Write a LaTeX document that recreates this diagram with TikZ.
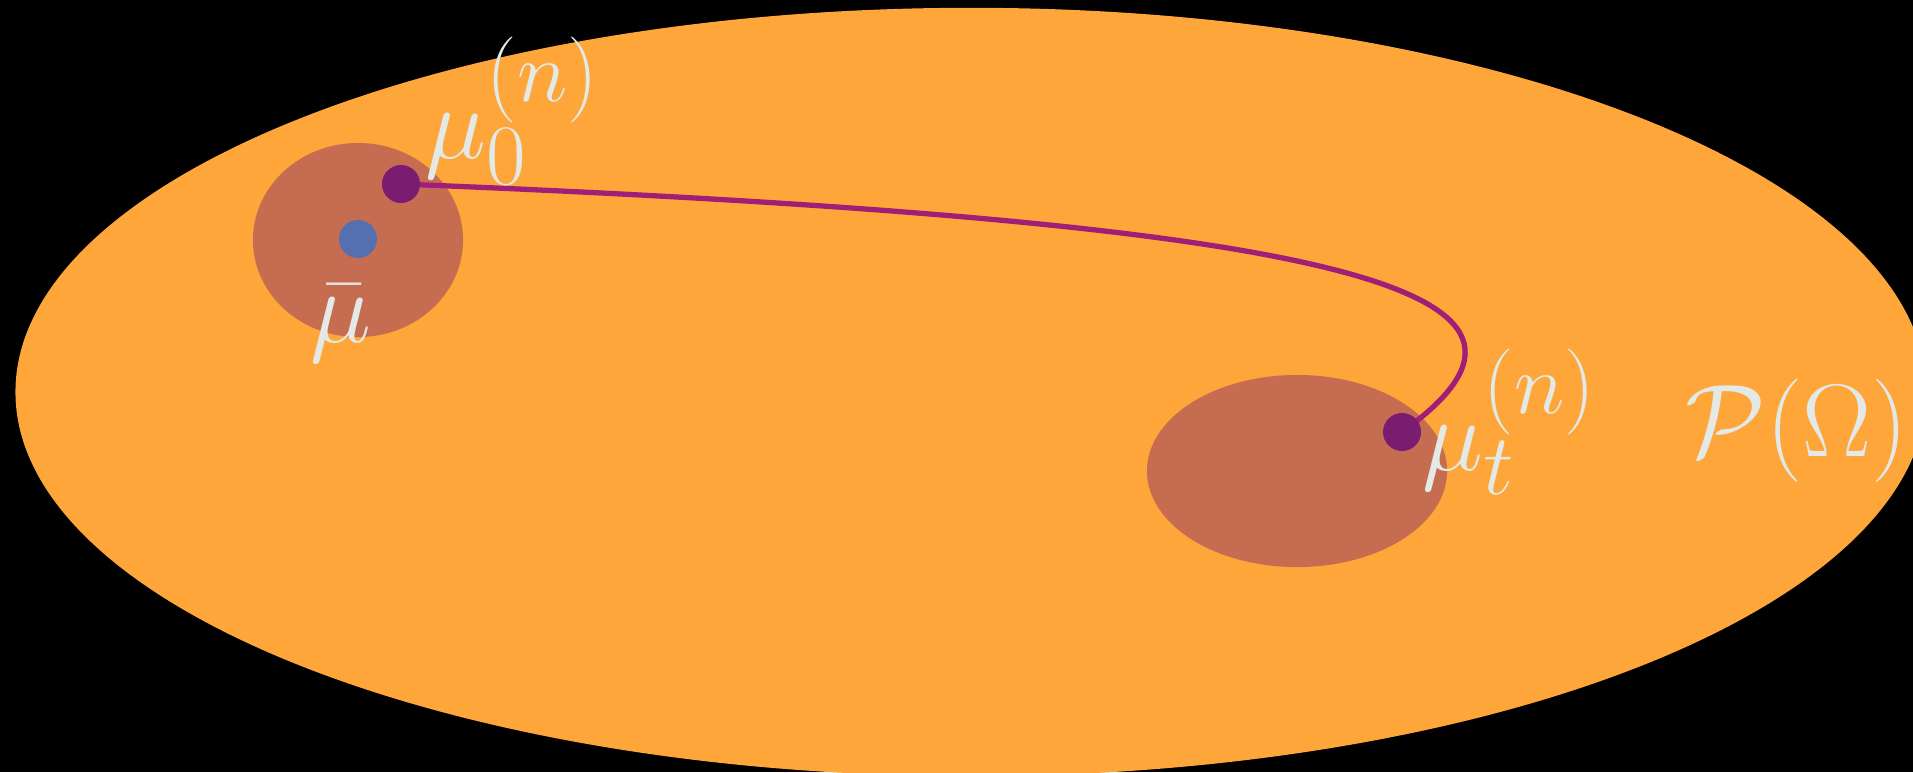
\documentclass[tikz,border=0pt]{standalone}
\usepackage{xcolor}
\usepackage{tikz}
\usetikzlibrary{positioning}
\definecolor{spaceorange}{HTML}{FFA63A}
\definecolor{ballbrown}{HTML}{C66D51}
\definecolor{pathpurple}{HTML}{A01E78}
\definecolor{dotpurple}{HTML}{7A1C72}
\definecolor{dotblue}{HTML}{5470B0}
\definecolor{labelgray}{HTML}{E3E9E7}
\tikzset{
    measuredot/.style={circle, fill=#1, inner sep=0pt, minimum size=0.38cm},
    measurelabel/.style={anchor=base west, inner sep=0pt, text=labelgray, scale=1.18, font=\fontsize{24.88}{30}\selectfont},
    flowpath/.style={draw=pathpurple, line width=1.5pt}
}

\begin{document}
\begin{tikzpicture}[x=0.01cm, y=-0.01cm]
    \fill[black] (0,0) rectangle (1913,772);
    \useasboundingbox (0,0) rectangle (1913,772);

    % the space P(Omega) and the two neighbourhoods
    \fill[spaceorange] (971,392) ellipse [x radius=9.55cm, y radius=3.84cm];
    \fill[ballbrown] (358,240) ellipse [x radius=1.05cm, y radius=0.97cm];
    \fill[ballbrown] (1297,471) ellipse [x radius=1.50cm, y radius=0.96cm];

    \coordinate (start) at (401,184);
    \coordinate (end) at (1402,432);
    \draw[flowpath] (start) .. controls (1350,222) and (1600,290) .. (end);

    \node[measuredot=dotblue] (bar) at (358,239) {};
    \node[measuredot=dotpurple] (zero) at (start) {};
    \node[measuredot=dotpurple] (final) at (end) {};

    \node[measurelabel] (muzero) at (425,158) {$\mu_0^{(n)}$};
    \node[measurelabel] (mubar) at (310,342) {$\bar{\mu}$};
    \node[measurelabel] (mut) at (1422,470) {$\mu_t^{(n)}$};
    \node[measurelabel] (space) at (1685,456) {$\mathcal{P}(\Omega)$};
\end{tikzpicture}
\end{document}
